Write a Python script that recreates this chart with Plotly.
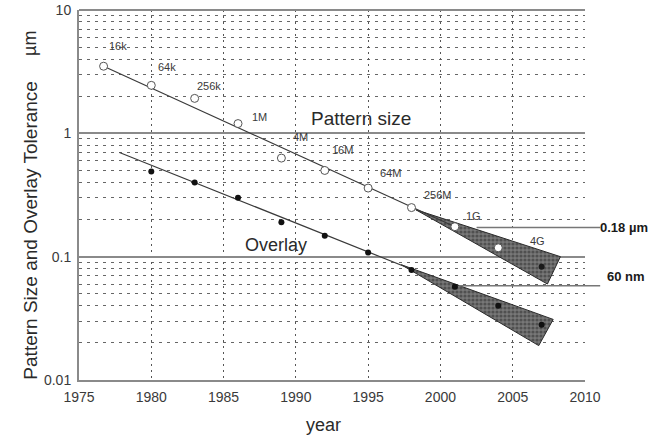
import numpy as np
import plotly.graph_objects as go

# ---- data ----
pattern_years = [1976.7, 1980, 1983, 1986, 1989, 1992, 1995, 1998, 2001, 2004]
pattern_size = [3.5, 2.45, 1.92, 1.2, 0.63, 0.50, 0.36, 0.25, 0.175, 0.118]
pattern_labels = ["16k", "64k", "256k", "1M", "4M", "16M", "64M", "256M", "1G", "4G"]
label_dx = [14, 16, 14, 21, 19, 18, 22, 26, 19, 39]
label_dy = [20, 18, 12, 7, 21, 20, 15, 13, 11, 7]

overlay_years = [1980, 1983, 1986, 1989, 1992, 1995, 1998, 2001, 2004, 2007]
overlay_tol = [0.49, 0.40, 0.30, 0.19, 0.148, 0.108, 0.078, 0.057, 0.040, 0.028]

pattern_end_year = [2007]
pattern_end_val = [0.083]

pattern_trend_x = [1976.7, 2001]
pattern_trend_y = [3.5, 0.175]
overlay_trend_x = [1977.8, 1998]
overlay_trend_y = [0.70, 0.079]

pattern_wedge_x = [1998.3, 2008.3, 2007.4, 1998.3]
pattern_wedge_y = [0.24, 0.100, 0.060, 0.24]
overlay_wedge_x = [1997.3, 2007.8, 2006.8, 1997.3]
overlay_wedge_y = [0.086, 0.031, 0.019, 0.086]

targets_val = [0.172, 0.058]
targets_start = [2002.5, 2001.3]
targets_text = ["0.18 \u00b5m", "60 nm"]

x_ticks = [1975, 1980, 1985, 1990, 1995, 2000, 2005, 2010]
y_ticks = [0.01, 0.1, 1, 10]
y_ticktext = ["0.01", "0.1", "1", "10"]

XMIN, XMAX = 1975, 2010
YMIN, YMAX = 0.01, 10

FONT = "Liberation Sans, Arial, sans-serif"
GRID = "#8a8a8a"
TXT = "#2a2a2a"

fig = go.Figure()

# wedges
for wx, wy in [(pattern_wedge_x, pattern_wedge_y), (overlay_wedge_x, overlay_wedge_y)]:
    fig.add_trace(go.Scatter(
        x=wx, y=wy, mode="lines", fill="toself",
        fillcolor="#5a5a5a", line=dict(color="#2a2a2a", width=1),
        fillpattern=dict(shape=".", fgcolor="#2a2a2a", bgcolor="#777777", size=4, solidity=0.5),
        hoverinfo="skip", showlegend=False))

# trend lines
fig.add_trace(go.Scatter(x=pattern_trend_x, y=pattern_trend_y, mode="lines",
                         line=dict(color="#3a3a3a", width=1.2), showlegend=False))
fig.add_trace(go.Scatter(x=overlay_trend_x, y=overlay_trend_y, mode="lines",
                         line=dict(color="#3a3a3a", width=1.2), showlegend=False))

# markers
fig.add_trace(go.Scatter(x=pattern_years, y=pattern_size, mode="markers",
                         marker=dict(symbol="circle", size=8, color="white",
                                     line=dict(color="#555555", width=1)),
                         showlegend=False))
fig.add_trace(go.Scatter(x=overlay_years, y=overlay_tol, mode="markers",
                         marker=dict(symbol="circle", size=6, color="#111111"),
                         showlegend=False))
fig.add_trace(go.Scatter(x=pattern_end_year, y=pattern_end_val, mode="markers",
                         marker=dict(symbol="circle", size=6, color="#1a1a1a"),
                         showlegend=False))

# point labels
for yr, v, t, dx, dy in zip(pattern_years, pattern_size, pattern_labels, label_dx, label_dy):
    fig.add_annotation(x=yr, y=np.log10(v), text=t, showarrow=False,
                       xshift=dx, yshift=dy, font=dict(family=FONT, size=11, color="#3a3a3a"))

# target lines and labels (outside plot on the right)
def xfrac(yr):
    return (yr - XMIN) / (XMAX - XMIN)

def yfrac(v):
    return (np.log10(v) - np.log10(YMIN)) / (np.log10(YMAX) - np.log10(YMIN))

for v, s in zip(targets_val, targets_start):
    fig.add_shape(type="line", xref="paper", yref="paper",
                  x0=xfrac(s), x1=1.03, y0=yfrac(v), y1=yfrac(v),
                  line=dict(color="#777777", width=1.5))
fig.add_annotation(xref="paper", yref="paper", x=1.025, y=yfrac(targets_val[0]),
                   xanchor="left", text="<b>" + targets_text[0] + "</b>", showarrow=False,
                   font=dict(family=FONT, size=13, color="#1a1a1a"))
fig.add_annotation(xref="paper", yref="paper", x=1.04, y=yfrac(targets_val[1]),
                   xanchor="left", text="<b>" + targets_text[1] + "</b>", showarrow=False,
                   font=dict(family=FONT, size=13, color="#1a1a1a"))

# top border
fig.add_shape(type="line", xref="paper", yref="paper", x0=0, x1=1, y0=1, y1=1,
              line=dict(color=GRID, width=2))

# region labels
fig.add_annotation(x=1994.5, y=np.log10(1.33), text="Pattern size", showarrow=False,
                   font=dict(family=FONT, size=19, color=TXT))
fig.add_annotation(x=1988.6, y=np.log10(0.125), text="Overlay", showarrow=False,
                   font=dict(family=FONT, size=18, color=TXT))

# axis titles
fig.add_annotation(xref="paper", yref="paper", x=-0.1206, y=0.405, textangle=-90,
                   text="Pattern Size and Overlay Tolerance", showarrow=False,
                   font=dict(family=FONT, size=19, color=TXT))
fig.add_annotation(xref="paper", yref="paper", x=-0.1206, y=0.95, textangle=-90,
                   text="\u00b5m", showarrow=False,
                   font=dict(family=FONT, size=18, color=TXT))
fig.add_annotation(xref="paper", yref="paper", x=0.484, y=-0.122, yanchor="middle",
                   text="year", showarrow=False,
                   font=dict(family=FONT, size=18, color=TXT))

minor_vals = [k * 10.0 ** e for e in (-2, -1, 0) for k in range(2, 10)]

fig.update_layout(
    width=659, height=440,
    margin=dict(l=79, r=74, t=10, b=60, autoexpand=False),
    plot_bgcolor="white", paper_bgcolor="white",
    showlegend=False,
    xaxis=dict(range=[XMIN, XMAX], tickvals=x_ticks, showgrid=True, automargin=False,
               gridcolor="#555555", griddash="2px,4px", gridwidth=1,
               showline=True, linecolor=GRID, linewidth=2, zeroline=False,
               ticks="outside", ticklen=3, tickcolor="rgba(0,0,0,0)",
               tickfont=dict(family=FONT, size=14, color="#3a3a3a")),
    yaxis=dict(type="log", range=[np.log10(YMIN), np.log10(YMAX)], automargin=False,
               tickvals=y_ticks, ticktext=y_ticktext, showgrid=True,
               gridcolor=GRID, gridwidth=2, showline=True, linecolor=GRID, linewidth=2,
               zeroline=False, ticks="outside", ticklen=3, tickcolor="rgba(0,0,0,0)",
               tickfont=dict(family=FONT, size=14, color="#3a3a3a"),
               minor=dict(tickvals=minor_vals, showgrid=True, gridcolor="#666666",
                          griddash="3px,5px", gridwidth=1, ticks="")),
)

fig.write_html("out.html")
